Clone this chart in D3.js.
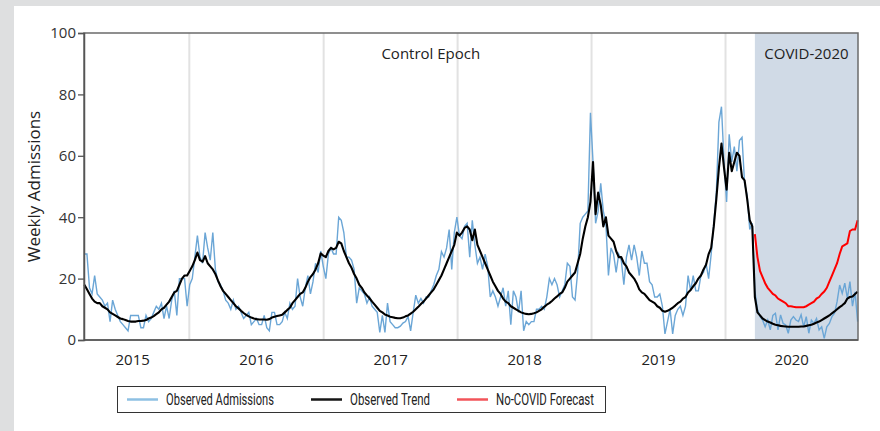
<!DOCTYPE html>
<html>
<head>
<meta charset="utf-8">
<script src="https://cdn.jsdelivr.net/npm/d3@7"></script>
<style>
  html, body { margin: 0; padding: 0; background: #dedfe0; }
  svg { display: block; }
</style>
</head>
<body>
<div id="chart"></div>
<script>
// weekly series, first week 2015-03-21
const firstWeek = new Date(2015, 2, 21);
const forecastStartWeek = 261;

const admissions = [
  28, 28, 17, 15, 21, 15, 14, 13, 11, 12, 6, 13, 10, 8, 6, 5, 4, 3, 8, 8,
  8, 8, 4, 4, 8, 6, 7, 9, 11, 10, 12, 7, 11, 7, 13, 16, 8, 20, 20, 20,
  11, 18, 20, 27, 34, 27, 25, 35, 30, 26, 35, 23, 19, 18, 16, 13, 12, 10, 13, 10,
  11, 9, 7, 8, 9, 5, 6, 7, 5, 5, 8, 4, 3, 9, 9, 5, 5, 6, 9, 7,
  12, 10, 11, 20, 14, 11, 17, 21, 15, 19, 25, 22, 29, 24, 20, 28, 30, 28, 28, 40,
  39, 35, 27, 27, 26, 23, 12, 17, 16, 15, 12, 14, 11, 10, 9, 2.5, 8, 2.5, 12, 6,
  5, 4, 4, 4.5, 5.5, 6, 7.7, 3, 9, 14.6, 12, 13.5, 12, 14, 14, 16, 18, 21, 23, 28.8,
  27, 30, 36, 23, 35, 40, 34, 33, 37, 38, 27, 39, 31, 25, 27, 23, 28, 24, 14, 16,
  14, 11, 14, 17, 11, 16, 5, 16, 14, 9, 16, 3, 6, 5, 6, 6, 10, 10, 11, 10,
  14, 20, 18, 20, 18, 14, 16, 18, 25, 24, 14, 13, 22, 38, 40, 41, 42, 74, 58, 38,
  42, 51, 42, 38, 21, 30, 28, 22, 28, 26, 18, 27, 31, 26, 31, 27, 21, 29, 25, 25,
  19, 18, 14, 14, 15, 11, 2, 6, 10, 2, 8, 10, 11, 8, 11, 21, 16, 21, 16, 16,
  21, 22, 25, 20, 28, 38, 48, 71, 76, 58, 45, 67, 58, 63, 55, 65, 66, 51, 47, 36,
  38, 16, 10, 7.6, 6.5, 4.3, 6.5, 3.3, 8, 8.7, 3.3, 8.2, 5.4, 4.9, 2.2, 6.5, 7.6, 6.5, 6, 8.2,
  4.3, 7.6, 2.2, 6.5, 5.4, 7, 3.3, 4.3, 0.5, 4.3, 5.4, 7.6, 8.7, 12.5, 17.9, 15.2, 18.5, 13.6, 19, 11,
  15.7, 6
];

const trend = [
  18, 16.5, 15, 13.5, 12.5, 12, 12, 11, 10.5, 10, 9, 8.5, 8, 7.5, 7, 6.8, 6.5, 6.2, 6, 6,
  6, 6.2, 6.2, 6.3, 6.5, 7, 7.3, 7.8, 8.4, 9, 10, 10.5, 11.5, 12.5, 14, 15.5, 16, 18, 20, 21,
  21, 22.5, 24, 26, 28.5, 26, 25.5, 27.3, 25, 24, 23, 21.5, 19.4, 17.5, 16, 15, 14, 13, 12, 11,
  10.3, 9.5, 8.8, 8.2, 7.7, 7.3, 7, 6.8, 6.7, 6.7, 6.7, 6.6, 6.8, 7.3, 7.6, 7.8, 8, 8.2, 9, 9.8,
  10.5, 12, 13, 14, 15, 15.5, 17, 19, 20.5, 21.5, 23, 25, 28.2, 27.5, 27, 29, 30, 29.5, 30, 32,
  31.5, 29, 27, 25, 23.5, 21.5, 20, 18, 17, 15.5, 14.5, 13.6, 12.5, 11.5, 10.5, 9.5, 9, 8.3, 8, 7.6,
  7.4, 7.2, 7.1, 7.1, 7.3, 7.7, 8, 8.6, 9.2, 10, 10.8, 11.7, 12.5, 13.5, 14.5, 15.5, 16.5, 18, 19.5, 21,
  23, 25, 27, 29, 31, 35, 34, 35, 36.5, 37, 36, 32.5, 36, 31, 29, 27, 25, 23, 21, 19,
  17.5, 16, 15, 13.5, 12.5, 12, 11, 10.5, 10, 9.5, 9, 8.7, 8.5, 8.4, 8.5, 8.7, 9, 9.5, 10, 10.8,
  11.5, 12, 12.7, 13.5, 14.2, 15, 15.5, 17, 19, 20, 21, 22, 25, 28, 33, 37, 40, 45, 58, 41,
  48, 44, 37, 40, 34, 33, 32, 29, 27, 27, 25, 24, 22, 21, 20, 18.5, 16.5, 15.5, 15, 14,
  13, 12.5, 12, 11, 10.5, 9.5, 9.2, 9.5, 10, 10.5, 11.2, 12, 12.5, 13.5, 14, 15.5, 16.3, 17.5, 18.5, 20,
  21, 23, 24.5, 28, 30, 37, 46, 56, 64, 56, 49, 61, 55, 58, 61, 60, 53, 52, 46, 39,
  37, 14, 9, 8, 7, 6.5, 6, 5.7, 5.3, 5, 4.8, 4.6, 4.5, 4.4, 4.3, 4.3, 4.3, 4.3, 4.3, 4.4,
  4.4, 4.6, 4.8, 5, 5.3, 5.7, 6, 6.5, 7, 7.5, 8, 8.7, 9.3, 10, 10.7, 11.3, 12, 13.5, 14, 14.2,
  15, 15.7
];

const forecast = [
  34.5, 27, 22.5, 20.5, 18.5, 17, 16, 15, 14.5, 13.5, 13, 12.5, 12, 11, 11, 10.8, 10.7, 10.7, 10.7, 10.7,
  11, 11.5, 12, 12.5, 13.5, 14, 15, 15.8, 17, 19, 21, 23, 25, 28, 30.5, 31, 31.5, 35.5, 36, 36,
  39
];

const yTicks = [0, 20, 40, 60, 80, 100];
const yearGrid = ['2016-01-01', '2017-01-01', '2018-01-01', '2019-01-01', '2020-01-01'];
const yearLabels = ['2015', '2016', '2017', '2018', '2019', '2020'];
const epochs = [
  { name: 'Control Epoch', at: '2017-10-20' },
  { name: 'COVID-2020', at: null }
];
const legendItems = [
  { name: 'Observed Admissions', color: '#8ec0e3' },
  { name: 'Observed Trend', color: '#151515' },
  { name: 'No-COVID Forecast', color: '#f2545a' }
];

const W = 880, H = 431;
const margin = { top: 33, right: 22, bottom: 91, left: 84 };
const parse = d3.timeParse('%Y-%m-%d');
const weekDate = i => d3.timeDay.offset(firstWeek, 7 * i);

const svg = d3.select('#chart').append('svg')
  .attr('width', W)
  .attr('height', H);

// white panel on grey page
svg.append('rect')
  .attr('x', 14).attr('y', 6)
  .attr('width', W - 14).attr('height', H - 6)
  .attr('fill', '#ffffff');

const lastDate = weekDate(admissions.length - 1);
const x = d3.scaleTime()
  .domain([d3.timeDay.offset(firstWeek, -1), d3.timeDay.offset(lastDate, 1)])
  .range([margin.left, W - margin.right]);

const y = d3.scaleLinear()
  .domain([0, 100])
  .range([H - margin.bottom, margin.top]);

const covidStart = weekDate(forecastStartWeek);

// covid shading
svg.append('rect')
  .attr('x', x(covidStart))
  .attr('y', y(100))
  .attr('width', x.range()[1] - x(covidStart))
  .attr('height', y(0) - y(100))
  .attr('fill', '#d0dae6');

// year gridlines
svg.append('g')
  .selectAll('line')
  .data(yearGrid)
  .enter()
  .append('line')
  .attr('x1', d => x(parse(d)))
  .attr('x2', d => x(parse(d)))
  .attr('y1', y(0))
  .attr('y2', y(100))
  .attr('stroke', '#e2e2e2')
  .attr('stroke-width', 2);

const series = (vals, offset) => vals.map((v, i) => ({ date: weekDate(i + offset), value: v }));
const line = d3.line()
  .x(d => x(d.date))
  .y(d => y(d.value));

svg.append('path')
  .datum(series(admissions, 0))
  .attr('d', line)
  .attr('fill', 'none')
  .attr('stroke', '#6ba6d6')
  .attr('stroke-width', 1.4);

svg.append('path')
  .datum(series(forecast, forecastStartWeek))
  .attr('d', line)
  .attr('fill', 'none')
  .attr('stroke', '#ff0000')
  .attr('stroke-width', 2);

svg.append('path')
  .datum(series(trend, 0))
  .attr('d', line)
  .attr('fill', 'none')
  .attr('stroke', '#000000')
  .attr('stroke-width', 2.1)
  .attr('stroke-linejoin', 'round');

// frame
svg.append('rect')
  .attr('x', x.range()[0])
  .attr('y', y(100))
  .attr('width', x.range()[1] - x.range()[0])
  .attr('height', y(0) - y(100))
  .attr('fill', 'none')
  .attr('stroke', '#6b6b6b')
  .attr('stroke-width', 1.5);

// y axis
const yAxis = svg.append('g')
  .attr('transform', `translate(${x.range()[0]},0)`)
  .call(d3.axisLeft(y).tickValues(yTicks).tickSize(6).tickPadding(2));
yAxis.select('.domain').attr('stroke', '#555').attr('stroke-width', 1.5);
yAxis.selectAll('.tick line').attr('stroke', '#555').attr('stroke-width', 1.3);
yAxis.selectAll('text')
  .style('font-family', 'Open Sans, sans-serif')
  .style('font-size', '15px')
  .attr('fill', '#333');

// bottom axis line
svg.append('line')
  .attr('x1', x.range()[0]).attr('x2', x.range()[1])
  .attr('y1', y(0)).attr('y2', y(0))
  .attr('stroke', '#555').attr('stroke-width', 1.5);

// year labels centred in each visible year
svg.append('g')
  .selectAll('text')
  .data(yearLabels)
  .enter()
  .append('text')
  .attr('x', d => {
    const a = d3.max([parse(d + '-01-01'), x.domain()[0]]);
    const b = d3.min([parse((+d + 1) + '-01-01'), x.domain()[1]]);
    return (x(a) + x(b)) / 2 - (d === yearLabels[0] ? 4 : 0);
  })
  .attr('y', 365)
  .attr('text-anchor', 'middle')
  .style('font-family', 'Open Sans, sans-serif')
  .style('font-size', '15px')
  .attr('fill', '#222')
  .text(d => d);

// y title
svg.append('text')
  .attr('transform', `translate(40,${(y(0) + y(100)) / 2}) rotate(-90)`)
  .attr('text-anchor', 'middle')
  .style('font-family', 'Open Sans, sans-serif')
  .style('font-size', '17px')
  .attr('fill', '#222')
  .text('Weekly Admissions');

// epoch labels
svg.append('g')
  .selectAll('text')
  .data(epochs)
  .enter()
  .append('text')
  .attr('x', d => d.at ? x(parse(d.at)) : (x(covidStart) + x.range()[1]) / 2)
  .attr('y', 59)
  .attr('text-anchor', 'middle')
  .style('font-family', 'Open Sans, sans-serif')
  .style('font-size', '15px')
  .attr('fill', '#222')
  .text(d => d.name);

// legend
const legend = svg.append('g');
legend.append('rect')
  .attr('x', 117.5).attr('y', 386.5)
  .attr('width', 488).attr('height', 26)
  .attr('fill', '#fff')
  .attr('stroke', '#333')
  .attr('stroke-width', 1);

// narrow legend font: squeeze text into the widths seen in the original
const legendX = d3.scaleOrdinal()
  .domain(legendItems.map(d => d.name))
  .range([127, 311, 457]);
const legendW = d3.scaleOrdinal()
  .domain(legendItems.map(d => d.name))
  .range([108, 80, 98]);

const item = legend.selectAll('g.item')
  .data(legendItems)
  .enter()
  .append('g')
  .attr('class', 'item')
  .attr('transform', d => `translate(${legendX(d.name)},399.5)`);

item.append('line')
  .attr('x1', 0).attr('x2', 31)
  .attr('stroke', d => d.color)
  .attr('stroke-width', 2.5);

item.append('text')
  .attr('x', 39)
  .attr('y', 5.5)
  .attr('textLength', d => legendW(d.name))
  .attr('lengthAdjust', 'spacingAndGlyphs')
  .style('font-family', 'Roboto, sans-serif')
  .style('font-size', '16.5px')
  .attr('fill', '#222')
  .text(d => d.name);
</script>
</body>
</html>
